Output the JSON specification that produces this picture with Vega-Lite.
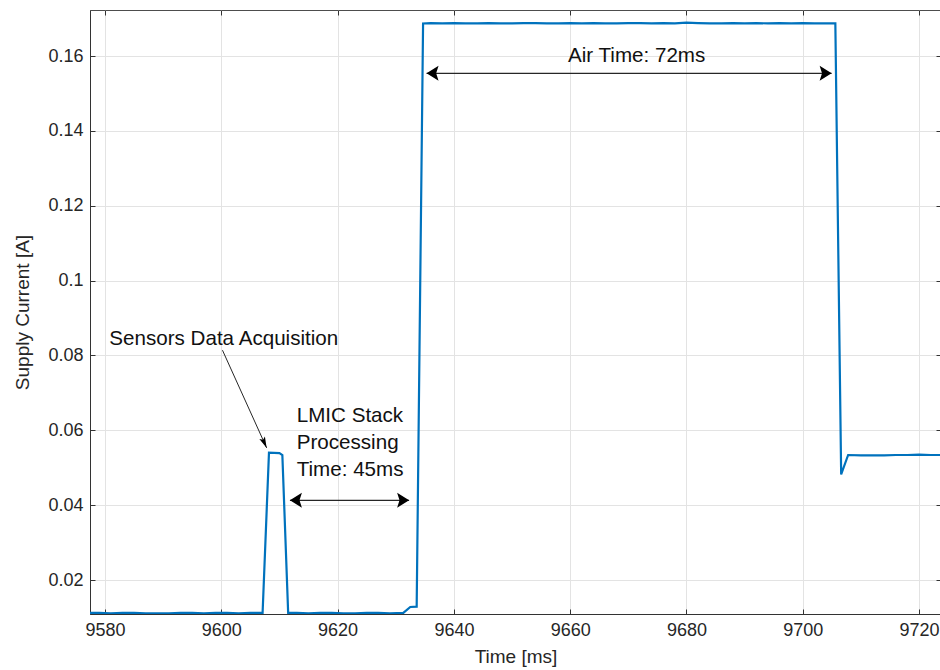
{
  "$schema": "https://vega.github.io/schema/vega-lite/v6.json",
  "width": 851,
  "height": 604,
  "autosize": {"type": "none"},
  "padding": {"left": 90, "top": 10, "right": 0, "bottom": 56},
  "background": "white",
  "config": {
    "font": "Liberation Sans",
    "view": {"stroke": "#4d4d4d", "strokeWidth": 1},
    "axis": {
      "labelFont": "Liberation Sans",
      "titleFont": "Liberation Sans",
      "labelFontSize": 18,
      "titleFontSize": 19,
      "titleFontWeight": "normal",
      "labelColor": "#262626",
      "titleColor": "#262626",
      "domainColor": "#333333",
      "tickColor": "#333333",
      "gridColor": "#e3e3e3",
      "tickSize": -5,
      "labelPadding": 12
    }
  },
  "datasets": {
    "series": [
      {"t": 9577.4, "a": 0.0112}, {"t": 9579, "a": 0.0112}, {"t": 9581, "a": 0.0111}, {"t": 9583, "a": 0.0112},
      {"t": 9585, "a": 0.0112}, {"t": 9587, "a": 0.0111}, {"t": 9589, "a": 0.0111}, {"t": 9591, "a": 0.0111},
      {"t": 9593, "a": 0.0112}, {"t": 9595, "a": 0.0112}, {"t": 9597, "a": 0.0111}, {"t": 9599, "a": 0.0112},
      {"t": 9601, "a": 0.0112}, {"t": 9603, "a": 0.0111}, {"t": 9605, "a": 0.0112}, {"t": 9607.1, "a": 0.0112},
      {"t": 9608.2, "a": 0.0540}, {"t": 9610.0, "a": 0.0539}, {"t": 9610.5, "a": 0.0534}, {"t": 9611.5, "a": 0.0112},
      {"t": 9613, "a": 0.0112}, {"t": 9615, "a": 0.0111}, {"t": 9617, "a": 0.0112}, {"t": 9619, "a": 0.0112},
      {"t": 9621, "a": 0.0111}, {"t": 9623, "a": 0.0111}, {"t": 9625, "a": 0.0112}, {"t": 9627, "a": 0.0112},
      {"t": 9629, "a": 0.0111}, {"t": 9631.3, "a": 0.0112}, {"t": 9632.5, "a": 0.0128}, {"t": 9633.6, "a": 0.0129},
      {"t": 9634.7, "a": 0.1687}, {"t": 9636, "a": 0.1688}, {"t": 9638, "a": 0.1687}, {"t": 9640, "a": 0.1688},
      {"t": 9642, "a": 0.1687}, {"t": 9644, "a": 0.1687}, {"t": 9646, "a": 0.1688}, {"t": 9648, "a": 0.1687},
      {"t": 9650, "a": 0.1687}, {"t": 9652, "a": 0.1688}, {"t": 9654, "a": 0.1688}, {"t": 9656, "a": 0.1687},
      {"t": 9658, "a": 0.1687}, {"t": 9660, "a": 0.1688}, {"t": 9662, "a": 0.1687}, {"t": 9664, "a": 0.1688},
      {"t": 9666, "a": 0.1687}, {"t": 9668, "a": 0.1687}, {"t": 9670, "a": 0.1688}, {"t": 9672, "a": 0.1688},
      {"t": 9674, "a": 0.1687}, {"t": 9676, "a": 0.1688}, {"t": 9678, "a": 0.1687}, {"t": 9680, "a": 0.1689},
      {"t": 9682, "a": 0.1688}, {"t": 9684, "a": 0.1687}, {"t": 9686, "a": 0.1687}, {"t": 9688, "a": 0.1688},
      {"t": 9690, "a": 0.1687}, {"t": 9692, "a": 0.1688}, {"t": 9694, "a": 0.1687}, {"t": 9696, "a": 0.1688},
      {"t": 9698, "a": 0.1687}, {"t": 9700, "a": 0.1688}, {"t": 9702, "a": 0.1687}, {"t": 9704, "a": 0.1687},
      {"t": 9705.6, "a": 0.1687}, {"t": 9706.6, "a": 0.0482}, {"t": 9707.8, "a": 0.0534}, {"t": 9710, "a": 0.0533},
      {"t": 9712, "a": 0.0533}, {"t": 9714, "a": 0.0533}, {"t": 9716, "a": 0.0534}, {"t": 9718, "a": 0.0534},
      {"t": 9720, "a": 0.0535}, {"t": 9722, "a": 0.0534}, {"t": 9724, "a": 0.0534}
    ],
    "spans": [
      {"name": "Air Time", "x1": 9635.3, "x2": 9704.96, "y": 0.15538},
      {"name": "LMIC", "x1": 9611.8, "x2": 9632.3, "y": 0.04129}
    ],
    "pointer": [
      {"x1": 9600.2, "y1": 0.0814, "x2": 9607.8, "y2": 0.0553}
    ],
    "leftLabels": [
      {"text": "Sensors Data Acquisition", "x": 9580.74, "y": 0.08278},
      {"text": "LMIC Stack", "x": 9612.97, "y": 0.0622},
      {"text": "Processing", "x": 9612.97, "y": 0.0550},
      {"text": "Time: 45ms", "x": 9612.97, "y": 0.0478}
    ],
    "centerLabels": [
      {"text": "Air Time: 72ms", "x": 9671.43, "y": 0.15848}
    ]
  },
  "layer": [
    {
      "data": {"name": "series"},
      "mark": {"type": "line", "color": "#0072BD", "strokeWidth": 2.2, "clip": true, "interpolate": "linear"},
      "encoding": {
        "x": {
          "field": "t", "type": "quantitative",
          "scale": {"domain": [9577.42, 9723.77], "nice": false, "zero": false},
          "axis": {"orient": "bottom", "values": [9580, 9600, 9620, 9640, 9660, 9680, 9700, 9720], "format": "d", "title": "Time [ms]", "titlePadding": 8}
        },
        "y": {
          "field": "a", "type": "quantitative",
          "scale": {"domain": [0.01092, 0.17229], "nice": false, "zero": false},
          "axis": {"orient": "left", "values": [0.02, 0.04, 0.06, 0.08, 0.1, 0.12, 0.14, 0.16], "labelExpr": "format(datum.value, '.2~f')", "title": "Supply Current [A]", "titlePadding": 15}
        }
      }
    },
    {
      "data": {"name": "series"},
      "mark": {"type": "point", "opacity": 0},
      "encoding": {
        "x": {
          "field": "t", "type": "quantitative",
          "axis": {"orient": "top", "values": [9580, 9600, 9620, 9640, 9660, 9680, 9700, 9720], "labels": false, "title": null, "grid": false, "domain": false}
        },
        "y": {
          "field": "a", "type": "quantitative",
          "axis": {"orient": "right", "values": [0.02, 0.04, 0.06, 0.08, 0.1, 0.12, 0.14, 0.16], "labels": false, "title": null, "grid": false, "domain": false}
        }
      }
    },
    {
      "data": {"name": "spans"},
      "mark": {"type": "rule", "color": "#262626", "strokeWidth": 1.2},
      "encoding": {
        "x": {"field": "x1", "type": "quantitative", "axis": null},
        "x2": {"field": "x2"},
        "y": {"field": "y", "type": "quantitative", "axis": null}
      }
    },
    {
      "data": {"name": "spans"},
      "mark": {"type": "point", "shape": "M0,0L-2,-1.25L-1.6,0L-2,1.25Z", "filled": true, "color": "#000000", "opacity": 1, "size": 144, "strokeWidth": 0},
      "encoding": {
        "x": {"field": "x2", "type": "quantitative", "axis": null},
        "y": {"field": "y", "type": "quantitative", "axis": null}
      }
    },
    {
      "data": {"name": "spans"},
      "mark": {"type": "point", "shape": "M0,0L2,-1.25L1.6,0L2,1.25Z", "filled": true, "color": "#000000", "opacity": 1, "size": 144, "strokeWidth": 0},
      "encoding": {
        "x": {"field": "x1", "type": "quantitative", "axis": null},
        "y": {"field": "y", "type": "quantitative", "axis": null}
      }
    },
    {
      "data": {"name": "pointer"},
      "mark": {"type": "rule", "color": "#262626", "strokeWidth": 1},
      "encoding": {
        "x": {"field": "x1", "type": "quantitative", "axis": null},
        "y": {"field": "y1", "type": "quantitative", "axis": null},
        "x2": {"field": "x2"},
        "y2": {"field": "y2"}
      }
    },
    {
      "data": {"name": "leftLabels"},
      "mark": {"type": "text", "font": "Liberation Sans", "fontSize": 20.6, "color": "#111111", "baseline": "alphabetic", "align": "left"},
      "encoding": {
        "x": {"field": "x", "type": "quantitative", "axis": null},
        "y": {"field": "y", "type": "quantitative", "axis": null},
        "text": {"field": "text", "type": "nominal"}
      }
    },
    {
      "data": {"name": "centerLabels"},
      "mark": {"type": "text", "font": "Liberation Sans", "fontSize": 20.6, "color": "#111111", "baseline": "alphabetic", "align": "center"},
      "encoding": {
        "x": {"field": "x", "type": "quantitative", "axis": null},
        "y": {"field": "y", "type": "quantitative", "axis": null},
        "text": {"field": "text", "type": "nominal"}
      }
    },
    {
      "data": {"name": "pointer"},
      "mark": {"type": "point", "shape": "M0,0L-0.55,-2L0,-1.6L0.55,-2Z", "filled": true, "color": "#000000", "opacity": 1, "size": 121, "angle": 335.8, "strokeWidth": 0},
      "encoding": {
        "x": {"field": "x2", "type": "quantitative", "axis": null},
        "y": {"field": "y2", "type": "quantitative", "axis": null}
      }
    }
  ],
  "resolve": {"axis": {"x": "independent", "y": "independent"}}
}
